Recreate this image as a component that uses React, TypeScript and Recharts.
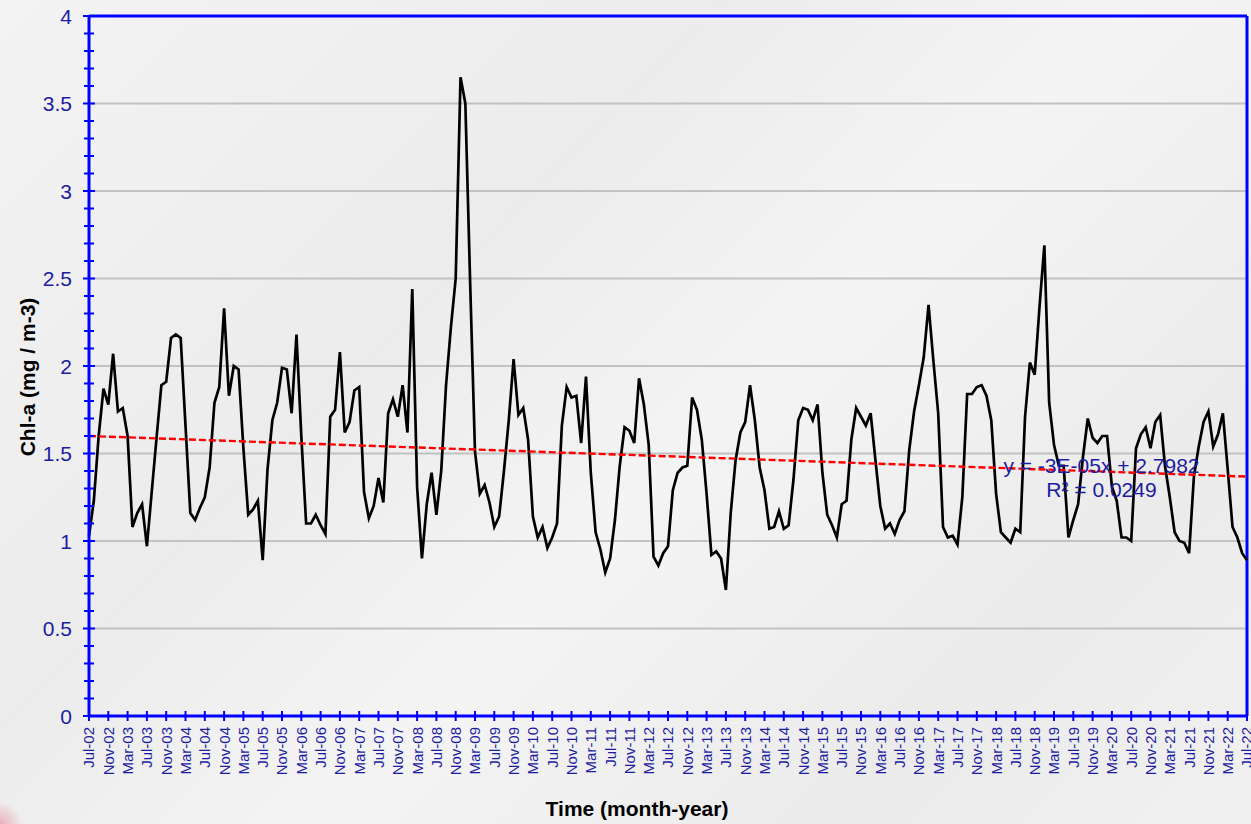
import React from 'react';
import { LineChart, Line, XAxis, YAxis, CartesianGrid, ReferenceLine } from 'recharts';

// Monthly Chl-a values, Jul-02 .. Jul-22 (241 months)
const chlA: number[] = [
  1.03, 1.23, 1.60, 1.87, 1.78, 2.07, 1.74, 1.76, 1.60, 1.08,
  1.16, 1.21, 0.97, 1.28, 1.59, 1.89, 1.91, 2.16, 2.18, 2.16,
  1.66, 1.16, 1.12, 1.19, 1.25, 1.42, 1.79, 1.88, 2.33, 1.83,
  2.00, 1.98, 1.53, 1.15, 1.18, 1.23, 0.89, 1.41, 1.69, 1.79,
  1.99, 1.98, 1.73, 2.18, 1.60, 1.10, 1.10, 1.15, 1.09, 1.04,
  1.71, 1.75, 2.08, 1.62, 1.68, 1.86, 1.88, 1.28, 1.13, 1.20,
  1.36, 1.22, 1.73, 1.81, 1.71, 1.89, 1.62, 2.44, 1.31, 0.90,
  1.21, 1.39, 1.15, 1.40, 1.89, 2.22, 2.50, 3.65, 3.50, 2.47,
  1.51, 1.27, 1.32, 1.22, 1.08, 1.14, 1.40, 1.69, 2.04, 1.72,
  1.76, 1.58, 1.14, 1.02, 1.08, 0.96, 1.02, 1.10, 1.66, 1.88,
  1.82, 1.83, 1.56, 1.94, 1.39, 1.05, 0.95, 0.82, 0.90, 1.12,
  1.43, 1.65, 1.63, 1.56, 1.93, 1.78, 1.55, 0.91, 0.86, 0.93,
  0.97, 1.29, 1.39, 1.42, 1.43, 1.82, 1.75, 1.58, 1.27, 0.92,
  0.94, 0.90, 0.72, 1.16, 1.46, 1.62, 1.68, 1.89, 1.69, 1.42,
  1.29, 1.07, 1.08, 1.17, 1.07, 1.09, 1.35, 1.69, 1.76, 1.75,
  1.69, 1.78, 1.39, 1.15, 1.09, 1.02, 1.21, 1.23, 1.58, 1.76,
  1.71, 1.66, 1.73, 1.46, 1.20, 1.07, 1.10, 1.04, 1.12, 1.17,
  1.52, 1.74, 1.89, 2.05, 2.35, 2.03, 1.73, 1.08, 1.02, 1.03,
  0.98, 1.25, 1.84, 1.84, 1.88, 1.89, 1.83, 1.69, 1.27, 1.05,
  1.02, 0.99, 1.07, 1.05, 1.71, 2.02, 1.95, 2.34, 2.69, 1.79,
  1.55, 1.43, 1.43, 1.02, 1.12, 1.21, 1.48, 1.70, 1.59, 1.56,
  1.60, 1.60, 1.31, 1.23, 1.02, 1.02, 1.00, 1.53, 1.61, 1.65,
  1.53, 1.68, 1.72, 1.43, 1.25, 1.05, 1.00, 0.99, 0.93, 1.37,
  1.54, 1.68, 1.74, 1.54, 1.61, 1.73, 1.41, 1.08, 1.02, 0.93,
  0.89,
];

// x-axis tick labels (every 4 months)
const xTickLabels: string[] = [
  'Jul-02', 'Nov-02', 'Mar-03', 'Jul-03', 'Nov-03', 'Mar-04', 'Jul-04', 'Nov-04',
  'Mar-05', 'Jul-05', 'Nov-05', 'Mar-06', 'Jul-06', 'Nov-06', 'Mar-07', 'Jul-07',
  'Nov-07', 'Mar-08', 'Jul-08', 'Nov-08', 'Mar-09', 'Jul-09', 'Nov-09', 'Mar-10',
  'Jul-10', 'Nov-10', 'Mar-11', 'Jul-11', 'Nov-11', 'Mar-12', 'Jul-12', 'Nov-12',
  'Mar-13', 'Jul-13', 'Nov-13', 'Mar-14', 'Jul-14', 'Nov-14', 'Mar-15', 'Jul-15',
  'Nov-15', 'Mar-16', 'Jul-16', 'Nov-16', 'Mar-17', 'Jul-17', 'Nov-17', 'Mar-18',
  'Jul-18', 'Nov-18', 'Mar-19', 'Jul-19', 'Nov-19', 'Mar-20', 'Jul-20', 'Nov-20',
  'Mar-21', 'Jul-21', 'Nov-21', 'Mar-22', 'Jul-22',
];
const monthsPerTick = 4;

// y-axis ticks (minor every 0.1, labelled / gridlines every 0.5)
const yTicks: number[] = [
  0, 0.1, 0.2, 0.3, 0.4, 0.5, 0.6, 0.7, 0.8, 0.9,
  1, 1.1, 1.2, 1.3, 1.4, 1.5, 1.6, 1.7, 1.8, 1.9,
  2, 2.1, 2.2, 2.3, 2.4, 2.5, 2.6, 2.7, 2.8, 2.9,
  3, 3.1, 3.2, 3.3, 3.4, 3.5, 3.6, 3.7, 3.8, 3.9, 4,
];
const yLabelled: number[] = [0, 0.5, 1, 1.5, 2, 2.5, 3, 3.5, 4];
const gridValues: number[] = [0.5, 1, 1.5, 2, 2.5, 3, 3.5];

// linear trendline end values (as drawn)
const trendStart = 1.6;
const trendEnd = 1.368;
const trendEquation = 'y = -3E-05x + 2.7982';
const trendR2 = 'R² = 0.0249';

const FONT = '"Liberation Sans", Arial, Helvetica, sans-serif';
const AXIS_BLUE = '#0000ff';
const LABEL_BLUE = '#1c1ca0';

const lastIdx = chlA.length - 1;
const data = chlA.map((v, i) => ({
  t: i,
  chl: v,
  trend: i === 0 ? trendStart : i === lastIdx ? trendEnd : null,
}));
const xTicks = xTickLabels.map((_, k) => k * monthsPerTick);

const YTick = (props: any) => {
  const { x, y, payload } = props;
  const v: number = payload.value;
  const major = yLabelled.some((m) => Math.abs(m - v) < 1e-6);
  const half = major ? 6 : 5;
  return (
    <g>
      <line x1={x - half} x2={x + half} y1={y} y2={y} stroke={AXIS_BLUE} strokeWidth={2} />
      {major && (
        <text x={x - 17} y={y} dy="0.36em" textAnchor="end" fill={LABEL_BLUE} fontSize={21} fontFamily={FONT}>
          {String(v)}
        </text>
      )}
    </g>
  );
};

const XTick = (props: any) => {
  const { x, y, payload } = props;
  const label = xTickLabels[Math.round(payload.value / monthsPerTick)];
  return (
    <g>
      <line x1={x} x2={x} y1={y - 5} y2={y + 5} stroke={AXIS_BLUE} strokeWidth={2} />
      <text
        transform={`translate(${x},${y + 11}) rotate(-90)`}
        textAnchor="end"
        dy="0.36em"
        fill={LABEL_BLUE}
        fontSize={15}
        fontFamily={FONT}
      >
        {label}
      </text>
    </g>
  );
};

export default function App() {
  return (
    <div
      style={{
        position: 'absolute',
        left: 0,
        top: 0,
        width: 1251,
        height: 824,
        overflow: 'hidden',
        background:
          'radial-gradient(circle at 0px 824px, rgba(225,80,110,0.4) 0px, rgba(225,80,110,0) 22px), linear-gradient(135deg, #f3f3f3 0%, #ececec 35%, #f4f4f4 55%, #ebebeb 80%, #f1f1f1 100%)',
      }}
    >
      <LineChart width={1251} height={824} data={data} margin={{ top: 16, right: 4, left: 0, bottom: 0 }}>
        <CartesianGrid vertical={false} horizontalValues={gridValues} stroke="#c2c2c2" strokeWidth={2} />
        <XAxis
          type="number"
          dataKey="t"
          domain={[0, lastIdx]}
          ticks={xTicks}
          interval={0}
          tick={<XTick />}
          tickLine={false}
          tickSize={0}
          tickMargin={0}
          height={108}
          axisLine={{ stroke: AXIS_BLUE, strokeWidth: 3 }}
        />
        <YAxis
          type="number"
          domain={[0, 4]}
          ticks={yTicks}
          interval={0}
          tick={<YTick />}
          tickLine={false}
          tickSize={0}
          tickMargin={0}
          width={89}
          axisLine={{ stroke: AXIS_BLUE, strokeWidth: 3 }}
        />
        <ReferenceLine x={lastIdx} stroke={AXIS_BLUE} strokeWidth={3} />
        <ReferenceLine y={4} stroke={AXIS_BLUE} strokeWidth={3} />
        <Line
          type="linear"
          dataKey="chl"
          stroke="#000000"
          strokeWidth={2.7}
          dot={false}
          activeDot={false}
          isAnimationActive={false}
        />
        <Line
          type="linear"
          dataKey="trend"
          stroke="#ff0000"
          strokeWidth={2.4}
          strokeDasharray="7 3"
          connectNulls
          dot={false}
          activeDot={false}
          isAnimationActive={false}
        />
      </LineChart>
      <svg
        width={1251}
        height={824}
        style={{ position: 'absolute', left: 0, top: 0, pointerEvents: 'none' }}
      >
        <text x={1101.5} y={473} textAnchor="middle" fill={LABEL_BLUE} fontSize={21} fontFamily={FONT}>
          {trendEquation}
        </text>
        <text x={1101.5} y={497} textAnchor="middle" fill={LABEL_BLUE} fontSize={21} fontFamily={FONT}>
          {trendR2}
        </text>
        <text
          transform="translate(27,377) rotate(-90)"
          textAnchor="middle"
          dy="0.36em"
          fill="#000000"
          fontWeight="bold"
          fontSize={21}
          fontFamily={FONT}
        >
          Chl-a (mg / m-3)
        </text>
        <text x={637} y={816} textAnchor="middle" fill="#000000" fontWeight="bold" fontSize={21} fontFamily={FONT}>
          Time (month-year)
        </text>
      </svg>
    </div>
  );
}
